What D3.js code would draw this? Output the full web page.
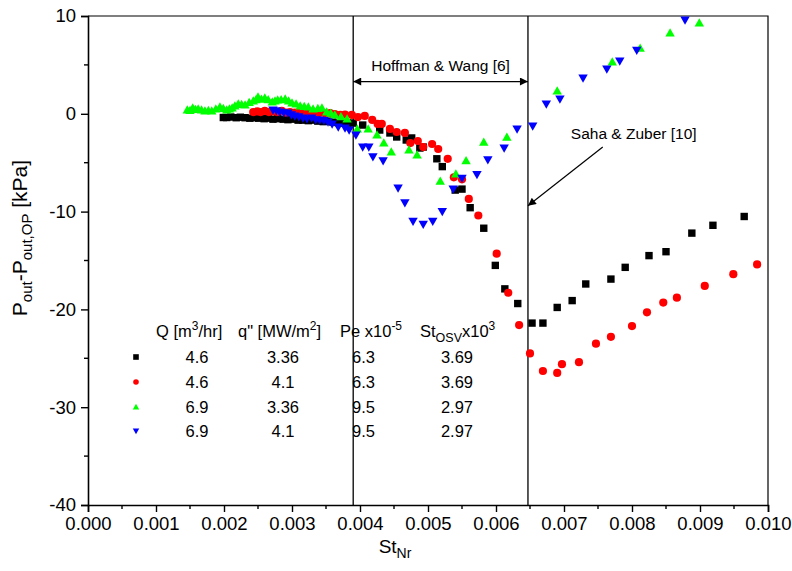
<!DOCTYPE html>
<html>
<head>
<meta charset="utf-8">
<script src="https://cdn.jsdelivr.net/npm/d3@7"></script>
<style>
  body { margin: 0; background: #fff; }
  svg { display: block; font-family: Arial, "Liberation Sans", sans-serif; }
</style>
</head>
<body>
<svg id="chart" width="792" height="571"></svg>
<script>
// Outlet pressure deviation vs. Stanton number, four test conditions
// Each point: [St_Nr, P_out - P_out,OP (kPa)]
const seriesA = [ // Q 4.6, q" 3.36
  [0.00199,-0.38],[0.00204,-0.38],[0.00210,-0.33],[0.00218,-0.40],[0.00224,-0.35],[0.00231,-0.40],
  [0.00238,-0.45],[0.00244,-0.40],[0.00251,-0.45],[0.00259,-0.50],[0.00265,-0.45],[0.00272,-0.55],
  [0.00279,-0.50],[0.00287,-0.55],[0.00294,-0.60],[0.00301,-0.55],[0.00309,-0.65],[0.00316,-0.65],
  [0.00324,-0.70],[0.00331,-0.65],[0.00338,-0.75],[0.00346,-0.80],[0.00353,-0.75],[0.00360,-0.85],
  [0.00368,-0.90],[0.00375,-0.95],[0.00382,-0.95],[0.00390,-0.95],[0.00404,-1.15],[0.00429,-1.66],
  [0.00444,-1.96],[0.00454,-2.37],[0.00468,-2.68],[0.00476,-2.47],[0.00488,-3.50],[0.00493,-3.40],
  [0.00513,-4.60],[0.00521,-5.40],[0.00540,-7.80],[0.00550,-7.70],[0.00562,-9.60],[0.00582,-11.7],
  [0.00599,-15.5],[0.00613,-17.9],[0.00632,-19.4],[0.00653,-21.4],[0.00669,-21.4],[0.00690,-19.8],
  [0.00712,-19.1],[0.00732,-17.4],[0.00769,-16.9],[0.00790,-15.7],[0.00825,-14.5],[0.00850,-14.1],
  [0.00888,-12.2],[0.00919,-11.4],[0.00965,-10.5]
];
const seriesB = [ // Q 4.6, q" 4.1
  [0.00243,0.18],[0.00249,0.24],[0.00254,0.18],[0.00260,0.29],[0.00266,0.18],[0.00272,0.24],
  [0.00278,0.18],[0.00285,0.29],[0.00291,0.13],[0.00297,0.18],[0.00304,0.13],[0.00312,0.18],
  [0.00319,0.08],[0.00326,0.13],[0.00334,0.08],[0.00341,0.08],[0.00349,0.03],[0.00356,0.08],
  [0.00363,-0.02],[0.00371,-0.12],[0.00378,-0.07],[0.00388,-0.12],[0.00397,-0.33],[0.00407,-0.22],
  [0.00418,-0.63],[0.00426,-1.04],[0.00432,-1.04],[0.00444,-1.55],[0.00454,-1.86],[0.00466,-1.96],
  [0.00474,-2.99],[0.00485,-2.78],[0.00493,-3.40],[0.00506,-3.09],[0.00515,-3.60],[0.00529,-4.60],
  [0.00538,-6.50],[0.00550,-6.70],[0.00560,-8.70],[0.00574,-10.4],[0.00601,-14.3],[0.00618,-18.3],
  [0.00634,-21.6],[0.00650,-24.5],[0.00669,-26.3],[0.00690,-26.5],[0.00697,-25.6],[0.00722,-25.4],
  [0.00747,-23.5],[0.00769,-22.8],[0.00800,-21.7],[0.00822,-20.3],[0.00846,-19.3],[0.00866,-18.8],
  [0.00907,-17.6],[0.00949,-16.4],[0.00984,-15.4]
];
const seriesC = [ // Q 6.9, q" 3.36
  [0.00146,0.39],[0.00150,0.35],[0.00154,0.59],[0.00158,0.45],[0.00162,0.49],[0.00167,0.40],
  [0.00172,0.29],[0.00177,0.35],[0.00182,0.29],[0.00188,0.50],[0.00194,0.70],[0.00199,0.55],
  [0.00204,0.39],[0.00208,0.50],[0.00212,0.59],[0.00216,0.80],[0.00221,1.00],[0.00226,0.95],
  [0.00231,0.90],[0.00237,1.15],[0.00243,1.31],[0.00247,1.45],[0.00250,1.72],[0.00255,1.50],
  [0.00260,1.62],[0.00265,1.45],[0.00271,1.21],[0.00275,1.30],[0.00279,1.41],[0.00284,1.45],
  [0.00290,1.51],[0.00295,1.30],[0.00300,1.10],[0.00306,1.00],[0.00312,0.80],[0.00318,0.75],
  [0.00324,0.70],[0.00331,0.49],[0.00338,0.55],[0.00344,0.59],[0.00351,0.18],[0.00357,0.05],
  [0.00363,-0.12],[0.00372,-0.30],[0.00381,-0.53],[0.00396,-1.55],[0.00412,-1.55],[0.00425,-2.17],
  [0.00435,-2.99],[0.00446,-3.90],[0.00472,-3.70],[0.00484,-4.20],[0.00518,-6.90],[0.00541,-6.15],
  [0.00556,-4.80],[0.00582,-2.90],[0.00616,-2.40],[0.00690,2.33],[0.00771,5.30],[0.00812,6.70],
  [0.00856,8.26],[0.00899,9.30]
];
const seriesD = [ // Q 6.9, q" 4.1
  [0.00272,0.39],[0.00277,0.30],[0.00282,0.18],[0.00288,0.10],[0.00294,0.08],[0.00299,-0.10],
  [0.00304,-0.22],[0.00310,-0.30],[0.00316,-0.43],[0.00322,-0.50],[0.00329,-0.43],[0.00335,-0.60],
  [0.00341,-0.63],[0.00347,-0.70],[0.00353,-0.84],[0.00359,-1.04],[0.00368,-1.35],[0.00378,-1.45],
  [0.00384,-1.66],[0.00394,-2.17],[0.00404,-3.40],[0.00413,-3.40],[0.00419,-4.40],[0.00434,-4.80],
  [0.00456,-7.60],[0.00466,-9.10],[0.00478,-11.0],[0.00493,-11.3],[0.00507,-11.0],[0.00521,-10.0],
  [0.00537,-7.70],[0.00550,-6.60],[0.00572,-6.20],[0.00588,-4.70],[0.00612,-3.50],[0.00631,-1.55],
  [0.00654,-1.25],[0.00674,1.00],[0.00694,1.51],[0.00728,3.66],[0.00763,4.58],[0.00782,5.40],
  [0.00807,6.50],[0.00878,9.60]
];

const xTickValues = [0, 0.001, 0.002, 0.003, 0.004, 0.005, 0.006, 0.007, 0.008, 0.009, 0.010];
const yTickValues = [-40, -30, -20, -10, 0, 10];

// Onset limits drawn as vertical reference lines
const hoffmanWangSt = 0.0039;
const sahaZuberSt = 0.00647;

// Legend table columns
const legendQ = ["4.6", "4.6", "6.9", "6.9"];
const legendHeat = ["3.36", "4.1", "3.36", "4.1"];
const legendPe = ["6.3", "6.3", "9.5", "9.5"];
const legendStOsv = ["3.69", "3.69", "2.97", "2.97"];

const colors = ["#000000", "#ff0000", "#00ff00", "#0000ff"];
const shapes = ["square", "circle", "up", "down"];
const allSeries = [seriesA, seriesB, seriesC, seriesD];

const svg = d3.select("#chart");
const margin = { left: 88, right: 24, top: 16, bottom: 66 };
const W = 792, H = 571;
const x = d3.scaleLinear().domain([0, 0.010]).range([margin.left, W - margin.right]);
const y = d3.scaleLinear().domain([-40, 10]).range([H - margin.bottom, margin.top]);

function symbolPath(shape, s) {
  if (shape === "square") return `M${-s},${-s}H${s}V${s}H${-s}Z`;
  if (shape === "circle") return `M${s},0A${s},${s} 0 1,1 ${-s},0A${s},${s} 0 1,1 ${s},0Z`;
  const h = s * 1.15;
  if (shape === "up") return `M0,${-h}L${s * 1.15},${h * 0.75}L${-s * 1.15},${h * 0.75}Z`;
  return `M0,${h}L${s * 1.15},${-h * 0.75}L${-s * 1.15},${-h * 0.75}Z`;
}
const markerSize = { square: 3.7, circle: 4.1, up: 4.1, down: 4.1 };

// Frame (top and right)
svg.append("path")
  .attr("d", `M${x(0)},${y(10)}H${x(0.010)}V${y(-40)}`)
  .attr("fill", "none").attr("stroke", "#000").attr("stroke-width", 1.2);

// Reference lines
[hoffmanWangSt, sahaZuberSt].forEach(v => {
  svg.append("line")
    .attr("x1", x(v)).attr("x2", x(v))
    .attr("y1", y(10)).attr("y2", y(-40))
    .attr("stroke", "#000").attr("stroke-width", 1.3);
});

// Data markers
allSeries.forEach((data, i) => {
  svg.append("g").selectAll("path")
    .data(data).join("path")
    .attr("transform", d => `translate(${x(d[0])},${y(d[1])})`)
    .attr("d", symbolPath(shapes[i], markerSize[shapes[i]]))
    .attr("fill", colors[i]);
});

// Axes
const xAxis = d3.axisBottom(x).tickValues(xTickValues).tickFormat(d3.format(".3f")).tickSize(7).tickPadding(5);
const gx = svg.append("g").attr("transform", `translate(0,${y(-40)})`).call(xAxis);
const yAxis = d3.axisLeft(y).tickValues(yTickValues).tickFormat(d => String(d)).tickSize(7).tickPadding(5);
const gy = svg.append("g").attr("transform", `translate(${x(0)},0)`).call(yAxis);
[gx, gy].forEach(g => {
  g.select(".domain").attr("stroke-width", 1.6);
  g.selectAll(".tick line").attr("stroke-width", 1.4);
  g.selectAll(".tick text").attr("font-size", 18.5).attr("font-family", "Arial, 'Liberation Sans', sans-serif").attr("fill", "#000");
});
// minor ticks
const xMinor = d3.range(0.0005, 0.010, 0.001);
svg.append("g").selectAll("line").data(xMinor).join("line")
  .attr("x1", d => x(d)).attr("x2", d => x(d))
  .attr("y1", y(-40)).attr("y2", y(-40) + 4)
  .attr("stroke", "#000").attr("stroke-width", 1.4);
const yMinor = d3.range(-35, 10, 10);
svg.append("g").selectAll("line").data(yMinor).join("line")
  .attr("x1", x(0) - 4).attr("x2", x(0))
  .attr("y1", d => y(d)).attr("y2", d => y(d))
  .attr("stroke", "#000").attr("stroke-width", 1.4);

// Axis titles
const xt = svg.append("text").attr("x", 395).attr("y", 553).attr("text-anchor", "middle").attr("font-size", 19);
xt.append("tspan").text("St");
xt.append("tspan").attr("dy", 5).attr("font-size", 14).text("Nr");

const yt = svg.append("text")
  .attr("transform", `translate(27,238) rotate(-90)`)
  .attr("text-anchor", "middle").attr("font-size", 21);
yt.append("tspan").text("P");
yt.append("tspan").attr("dy", 5).attr("font-size", 15).text("out");
yt.append("tspan").attr("dy", -5).text("-P");
yt.append("tspan").attr("dy", 5).attr("font-size", 15).text("out,OP");
yt.append("tspan").attr("dy", -5).text(" [kPa]");

// Annotation: Hoffman & Wang span with double arrow
const arrowY = y(3.3);
const defs = svg.append("defs");
defs.append("marker").attr("id", "head").attr("viewBox", "0 0 10 10")
  .attr("refX", 10).attr("refY", 5).attr("markerWidth", 12).attr("markerHeight", 8)
  .attr("markerUnits", "userSpaceOnUse").attr("orient", "auto-start-reverse")
  .append("path").attr("d", "M0,0L10,5L0,10Z").attr("fill", "#000");
svg.append("line")
  .attr("x1", x(hoffmanWangSt)).attr("x2", x(sahaZuberSt))
  .attr("y1", arrowY).attr("y2", arrowY)
  .attr("stroke", "#000").attr("stroke-width", 1.2)
  .attr("marker-start", "url(#head)").attr("marker-end", "url(#head)");
svg.append("text").attr("x", (x(hoffmanWangSt) + x(sahaZuberSt)) / 2).attr("y", arrowY - 11)
  .attr("text-anchor", "middle").attr("font-size", 15.5).text("Hoffman & Wang [6]");

// Annotation: Saha & Zuber pointer
svg.append("text").attr("x", x(0.0071)).attr("y", y(-2.6))
  .attr("font-size", 15.5).text("Saha & Zuber [10]");
svg.append("line")
  .attr("x1", x(0.00757)).attr("y1", y(-3.4))
  .attr("x2", x(sahaZuberSt)).attr("y2", y(-9.4))
  .attr("stroke", "#000").attr("stroke-width", 1.2)
  .attr("marker-end", "url(#head)");

// Legend table
const lg = svg.append("g").attr("font-size", 16.5);
const headerY = 337;
function supText(parent, xPos, base, sup, rest) {
  const t = parent.append("text").attr("x", xPos).attr("y", headerY);
  t.append("tspan").text(base);
  t.append("tspan").attr("dy", -7).attr("font-size", 12).text(sup);
  if (rest) t.append("tspan").attr("dy", 7).text(rest);
  return t;
}
supText(lg, 156, "Q [m", "3", "/hr]");
supText(lg, 238, "q\" [MW/m", "2", "]");
supText(lg, 340, "Pe x10", "-5", "");
{
  const t = lg.append("text").attr("x", 420).attr("y", headerY);
  t.append("tspan").text("St");
  t.append("tspan").attr("dy", 5).attr("font-size", 12.5).text("OSV");
  t.append("tspan").attr("dy", -5).text("x10");
  t.append("tspan").attr("dy", -7).attr("font-size", 12).text("3");
}
const rowY = [363, 388, 413, 437];
rowY.forEach((ry, i) => {
  lg.append("path").attr("transform", `translate(136,${ry - 6})`)
    .attr("d", symbolPath(shapes[i], 2.8)).attr("fill", colors[i]);
  lg.append("text").attr("x", 197).attr("y", ry).attr("text-anchor", "middle").text(legendQ[i]);
  lg.append("text").attr("x", 283).attr("y", ry).attr("text-anchor", "middle").text(legendHeat[i]);
  lg.append("text").attr("x", 352).attr("y", ry).text(legendPe[i]);
  lg.append("text").attr("x", 457).attr("y", ry).attr("text-anchor", "middle").text(legendStOsv[i]);
});
</script>
</body>
</html>
